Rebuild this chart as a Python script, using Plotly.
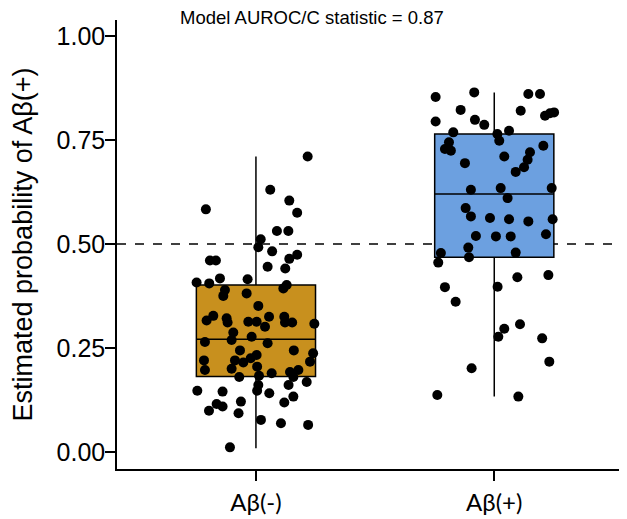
import plotly.graph_objects as go

# ---------------- data ----------------
categories = ["Aβ(-)", "Aβ(+)"]
cat_pos = [1, 2]

# Aβ(-) group: estimated probabilities and horizontal jitter (category units)
neg_prob = [0.710, 0.630, 0.583, 0.604, 0.575, 0.531, 0.531, 0.511, 0.492, 0.482,
            0.460, 0.460, 0.464, 0.474, 0.445, 0.441, 0.407, 0.405, 0.417, 0.415,
            0.401, 0.393, 0.389, 0.381, 0.375, 0.351, 0.327, 0.316, 0.321, 0.311,
            0.313, 0.313, 0.325, 0.301, 0.325, 0.311, 0.311, 0.308, 0.287, 0.269,
            0.264, 0.277, 0.261, 0.244, 0.244, 0.237, 0.233, 0.225, 0.215, 0.220,
            0.220, 0.197, 0.200, 0.205, 0.217, 0.189, 0.192, 0.197, 0.180, 0.180,
            0.183, 0.168, 0.161, 0.161, 0.147, 0.145, 0.147, 0.141, 0.121, 0.115,
            0.109, 0.133, 0.119, 0.099, 0.093, 0.077, 0.069, 0.065, 0.011]
neg_jitter = [0.217, 0.060, -0.210, 0.140, 0.173, 0.088, 0.136, 0.020, 0.010, 0.068,
              -0.193, -0.168, 0.140, 0.173, 0.049, 0.123, -0.249, -0.196, -0.151, -0.035,
              0.129, 0.115, -0.130, -0.039, -0.137, 0.010, -0.179, -0.207, -0.123, -0.119,
              -0.032, 0.003, 0.055, 0.038, 0.119, 0.122, 0.152, 0.245, -0.095, -0.102,
              -0.214, -0.018, 0.049, -0.067, 0.159, 0.240, 0.003, -0.022, -0.053, -0.088,
              -0.218, -0.214, -0.102, 0.005, 0.227, 0.066, 0.143, 0.178, 0.157, -0.070,
              0.013, 0.213, 0.010, 0.137, -0.246, -0.140, 0.005, 0.056, -0.063, -0.165,
              -0.140, 0.157, 0.119, -0.197, -0.073, 0.021, 0.105, 0.219, -0.109]

# Aβ(+) group
pos_prob = [0.853, 0.864, 0.860, 0.860, 0.822, 0.820, 0.808, 0.814, 0.816, 0.794,
            0.798, 0.786, 0.768, 0.764, 0.772, 0.748, 0.744, 0.728, 0.724, 0.736,
            0.710, 0.720, 0.702, 0.694, 0.684, 0.673, 0.630, 0.634, 0.634, 0.610,
            0.586, 0.566, 0.562, 0.559, 0.554, 0.559, 0.519, 0.518, 0.518, 0.523,
            0.491, 0.478, 0.468, 0.479, 0.455, 0.420, 0.425, 0.396, 0.397, 0.361,
            0.296, 0.307, 0.277, 0.273, 0.217, 0.201, 0.137, 0.133]
pos_jitter = [-0.246, -0.084, 0.143, 0.192, -0.141, 0.111, 0.213, 0.234, 0.251, -0.246,
              -0.081, -0.042, -0.172, 0.013, 0.062, 0.021, -0.190, -0.207, -0.182, 0.206,
              0.042, 0.150, 0.140, -0.123, 0.125, 0.090, -0.098, 0.027, 0.241, 0.056,
              -0.120, -0.098, -0.018, 0.062, 0.143, 0.245, -0.077, 0.007, 0.069, 0.217,
              -0.109, -0.224, -0.106, 0.090, -0.235, 0.097, 0.227, -0.207, 0.014, -0.162,
              0.042, 0.108, 0.017, 0.201, 0.231, -0.095, -0.239, 0.101]

# box statistics
box_lower = [0.009, 0.133]
box_q1 = [0.181, 0.468]
box_median = [0.271, 0.620]
box_q3 = [0.401, 0.764]
box_upper = [0.710, 0.864]

box_colors = ["#C8901E", "#6CA0E0"]
threshold = 0.5
y_ticks = [0.0, 0.25, 0.5, 0.75, 1.0]
title_text = "Model AUROC/C statistic = 0.87"
y_title = "Estimated probability of Aβ(+)"

# ---------------- figure ----------------
fig = go.Figure()

for i in range(2):
    fig.add_trace(go.Box(
        x=[cat_pos[i]], q1=[box_q1[i]], median=[box_median[i]], q3=[box_q3[i]],
        lowerfence=[box_lower[i]], upperfence=[box_upper[i]],
        width=0.5, whiskerwidth=0, fillcolor=box_colors[i],
        line=dict(color="black", width=1.5), boxpoints=False,
        showlegend=False, hoverinfo="skip",
    ))

neg_x = [cat_pos[0] + j for j in neg_jitter]
pos_x = [cat_pos[1] + j for j in pos_jitter]
fig.add_trace(go.Scatter(x=neg_x, y=neg_prob, mode="markers",
                         marker=dict(color="black", size=10), showlegend=False))
fig.add_trace(go.Scatter(x=pos_x, y=pos_prob, mode="markers",
                         marker=dict(color="black", size=10), showlegend=False))

fig.add_shape(type="line", xref="paper", yref="y", x0=0, x1=1,
              y0=threshold, y1=threshold,
              line=dict(color="black", width=1.5, dash="dash"), layer="below")

# page body has an 8px margin, so the figure is 8px smaller than the window
fig.update_layout(
    width=619, height=511,
    margin=dict(l=109, r=0, t=12, b=50, autoexpand=False),
    paper_bgcolor="white", plot_bgcolor="white",
    title=dict(text=title_text, x=0.491, xref="container", xanchor="center",
               y=0.994, yref="container", yanchor="top",
               font=dict(family="Liberation Sans, Arial", size=18.5, color="black")),
    xaxis=dict(range=[0.417, 2.557], tickvals=cat_pos, ticktext=categories,
               showline=True, linecolor="black", linewidth=1.5,
               ticks="outside", ticklen=10, tickwidth=1.5, tickcolor="black",
               showgrid=False, zeroline=False, automargin=False,
               ticklabelstandoff=1,
               tickfont=dict(family="Lato, Carlito, sans-serif", size=24, color="black")),
    yaxis=dict(range=[-0.041, 1.038], tickvals=y_ticks, tickformat=".2f",
               showline=True, linecolor="black", linewidth=1.5,
               ticks="outside", ticklen=10, tickwidth=1.5, tickcolor="black",
               showgrid=False, zeroline=False, automargin=False,
               ticklabelstandoff=-5,
               tickfont=dict(family="Liberation Sans, Arial", size=25, color="black"),
               title=dict(text=y_title, standoff=18,
                          font=dict(family="Liberation Sans, Arial", size=27, color="black"))),
)

fig.write_html("out.html")
